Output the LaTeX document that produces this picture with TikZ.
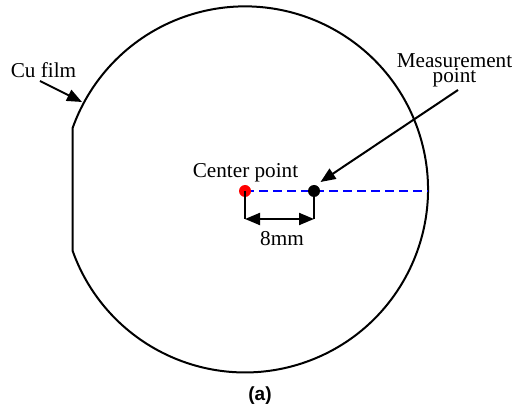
\documentclass[tikz,border=0pt]{standalone}
\usepackage{fontspec}
\setmainfont{Liberation Serif}
\newfontfamily\capsans{Liberation Sans}
\usetikzlibrary{positioning,arrows.meta}

\begin{document}
\begin{tikzpicture}[x=0.5pt,y=-0.5pt,line width=1pt,
  every node/.style={font=\fontsize{10.6}{7.6}\selectfont},
  pointer/.style={-{Triangle[length=7.5pt,width=6pt]}},
  dimline/.style={{Triangle[length=7.5pt,width=6pt]}-{Triangle[length=7.5pt,width=6pt]}},
  dot/.style={circle,inner sep=0pt,minimum size=6pt}]
\useasboundingbox (0,0) rectangle (512,405);
% wafer outline with the flat on the left
\draw (72.5,250.5) arc[start angle=160.5,end angle=-160.5,radius=183] -- cycle;
% radial line to the measurement point
\coordinate (ctrpos) at (245,191);
\coordinate (measpos) at (314,191);
\coordinate (rim) at (428,191);
\draw[blue,dash pattern=on 4.5pt off 2.5pt] (ctrpos) -- (rim);
\node[dot,fill=red] (ctr) at (ctrpos) {};
\node[dot,fill=black] (meas) at (measpos) {};
\node (ctrlbl) at (245.5,173) {Center point};
% 8mm dimension
\coordinate (dimL) at (245,219);
\coordinate (dimR) at (314,219);
\draw (ctr.center) -- (dimL);
\draw (meas.center) -- (dimR);
\draw[dimline] (dimL) -- (dimR);
\node (dimlbl) at (282,239) {8mm};
% callouts
\node (culbl) at (43.5,70) {Cu film};
\coordinate (cutip) at (82,102);
\draw[pointer] (40,81) -- (cutip);
\node[align=center] (measlbl) at (454.5,70) {Measurement\\point};
\coordinate (meastip) at (320.5,182);
\draw[pointer] (458,90) -- (meastip);
% caption
\node[font=\capsans\bfseries\fontsize{9.5}{11}\selectfont] (cap) at (260,396) {(a)};
\end{tikzpicture}
\end{document}
